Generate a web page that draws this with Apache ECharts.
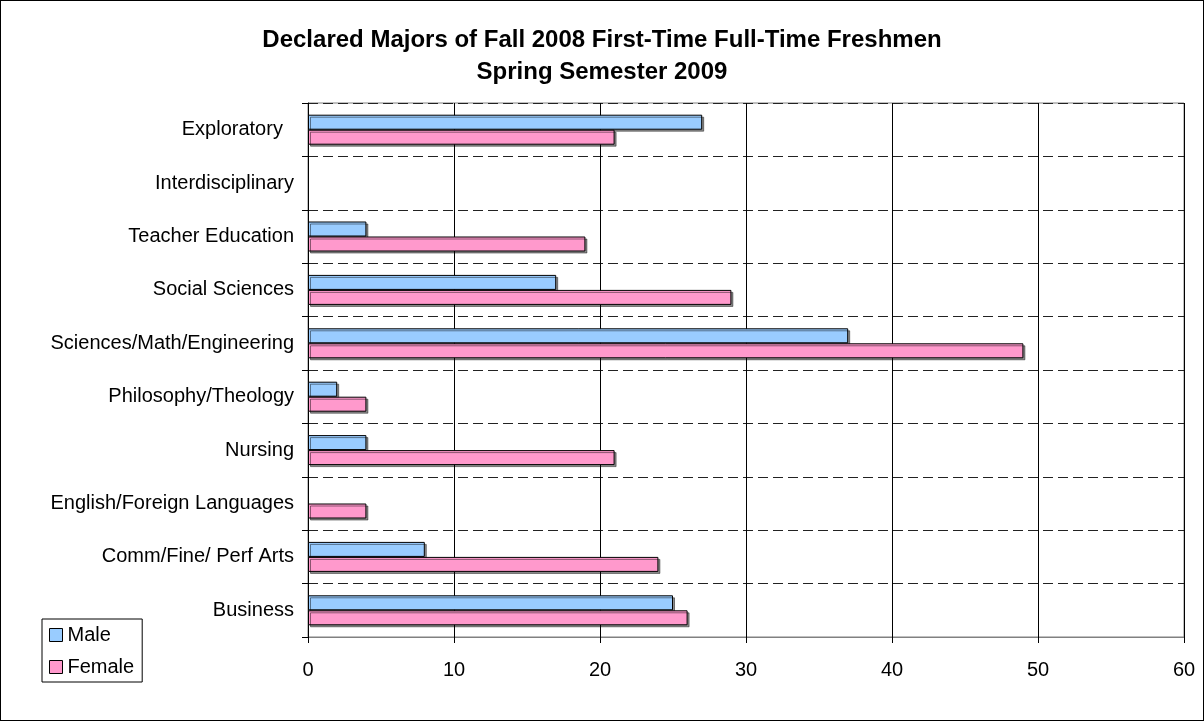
<!DOCTYPE html>
<html>
<head>
<meta charset="utf-8">
<script src="https://cdn.jsdelivr.net/npm/echarts@6/dist/echarts.min.js"></script>
<style>
  html, body { margin: 0; padding: 0; background: #fff; }
  #main { width: 1202px; height: 719px; border: 1px solid #000; }
</style>
</head>
<body>
<div id="main"></div>
<script>
// 数据（从下到上）
var categories = ['Business', 'Comm/Fine/ Perf Arts', 'English/Foreign Languages', 'Nursing',
  'Philosophy/Theology', 'Sciences/Math/Engineering', 'Social Sciences',
  'Teacher Education', 'Interdisciplinary', 'Exploratory  '];
var maleData = [25, 8, 0, 4, 2, 37, 17, 4, 0, 27];
var femaleData = [26, 24, 4, 21, 4, 49, 29, 19, 0, 21];
var xTicks = [0, 10, 20, 30, 40, 50, 60];

var myChart = echarts.init(document.getElementById('main'));

var barStyle = function (color) {
  return {
    color: color,
    borderColor: '#000',
    borderWidth: 1,
    shadowColor: 'rgba(0,0,0,0.45)',
    shadowOffsetX: 2,
    shadowOffsetY: 2,
    shadowBlur: 0
  };
};

// 值为0的柱子不画边框（原图中不可见）
var toItems = function (arr) {
  return arr.map(function (v) {
    if (v === 0) {
      return { value: v, itemStyle: { borderWidth: 0, shadowColor: 'transparent', opacity: 0 } };
    }
    return v;
  });
};

option = {
  animation: false,
  textStyle: { fontFamily: 'Liberation Sans, Arial, sans-serif' },
  title: {
    text: 'Declared Majors of Fall 2008 First-Time Full-Time Freshmen\nSpring Semester 2009',
    left: 'center',
    top: 18,
    textStyle: { fontSize: 24, fontWeight: 'bold', color: '#000', lineHeight: 32,
      fontFamily: 'Liberation Sans, Arial, sans-serif' }
  },
  legend: {
    orient: 'vertical',
    left: 41,
    top: 618,
    data: ['Male', 'Female'],
    icon: 'rect',
    itemWidth: 13,
    itemHeight: 13,
    itemGap: 12,
    padding: [6, 8, 5, 7],
    borderColor: '#000',
    borderWidth: 1,
    backgroundColor: '#fff',
    itemStyle: { borderColor: '#000', borderWidth: 1 },
    textStyle: { fontSize: 20, color: '#000' }
  },
  grid: {
    left: 307,
    right: 19,
    top: 102,
    bottom: 83,
    show: true,
    borderColor: '#808080',
    borderWidth: 1
  },
  xAxis: {
    type: 'value',
    min: xTicks[0],
    max: xTicks[xTicks.length - 1],
    interval: 10,
    axisLine: { show: true, lineStyle: { color: '#808080' } },
    axisTick: { show: true, length: 6, lineStyle: { color: '#000' } },
    axisLabel: { fontSize: 20, color: '#000', margin: 23 },
    splitLine: { show: true, lineStyle: { color: '#000', width: 1 } }
  },
  yAxis: {
    type: 'category',
    data: categories,
    axisLine: { show: true, lineStyle: { color: '#000' } },
    axisTick: { show: true, length: 6, lineStyle: { color: '#000' } },
    axisLabel: { fontSize: 20, color: '#000', margin: 14 },
    splitLine: { show: true, lineStyle: { color: '#222', type: [10, 5], width: 1 } }
  },
  series: [
    {
      name: 'Male',
      type: 'bar',
      data: toItems(maleData),
      barWidth: 15,
      barGap: '0%',
      itemStyle: barStyle('#99CCFF')
    },
    {
      name: 'Female',
      type: 'bar',
      data: toItems(femaleData),
      barWidth: 15,
      barGap: '0%',
      itemStyle: barStyle('#FF99CC')
    }
  ]
};

myChart.setOption(option);
</script>
</body>
</html>
